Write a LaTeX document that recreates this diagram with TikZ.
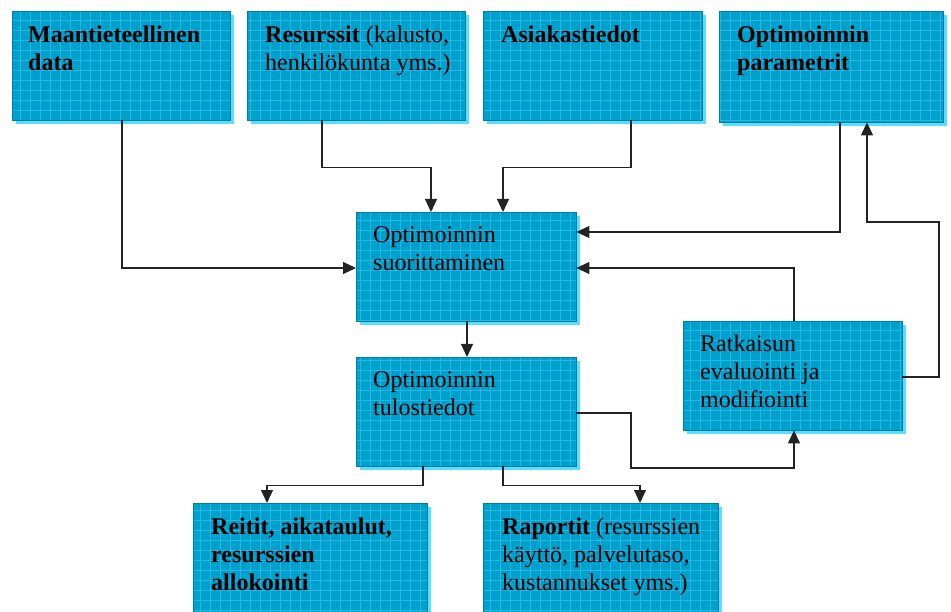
\documentclass[tikz,border=0pt]{standalone}
\usepackage{fontspec}
\setmainfont{Liberation Serif}
\usetikzlibrary{arrows.meta}
\definecolor{boxfill}{RGB}{0,160,205}
\definecolor{gridc}{RGB}{35,183,228}
\definecolor{shadowc}{RGB}{90,222,252}
\definecolor{bordc}{RGB}{0,125,165}
\definecolor{linec}{RGB}{35,35,35}
\newcommand\gbox[5]{%
  \fill[shadowc] (#2+4,#3+4) rectangle ++(#4,#5);
  \node[bx, minimum width=#4pt, minimum height=#5pt, anchor=north west] (#1) at (#2,#3) {};
  \begin{scope}
    \clip (#1.south west) rectangle (#1.north east);
    \draw[gridc, line width=0.6pt, step=10pt] (#1.south west) grid (#1.north east);
  \end{scope}
  \draw[bordc, line width=0.7pt] (#1.south west) rectangle (#1.north east);
}
\newcommand\btext[1]{\begin{tabular}[t]{@{}l@{}}#1\end{tabular}}
\begin{document}
\begin{tikzpicture}[x=1pt, y=-1pt,
  bx/.style={rectangle, fill=boxfill, draw=none, inner sep=0pt},
  tx/.style={anchor=base west, inner sep=0pt, font=\fontsize{24}{28}\selectfont},
  arr/.style={draw=linec, line width=1.1pt, -{Triangle[length=13pt,width=12pt]}},
  ln/.style={draw=linec, line width=1.1pt}]
\useasboundingbox (0,0) rectangle (951,612);
\fill[white] (0,0) rectangle (951,612);

\gbox{n1}{12}{11}{218}{109}
\gbox{n2}{247}{11}{218}{109}
\gbox{n3}{483}{11}{219}{109}
\gbox{n4}{719}{11}{224}{111}
\gbox{n5}{356}{212}{220}{109}
\gbox{n6}{356}{357}{220}{109}
\gbox{n7}{683}{321}{219}{109}
\gbox{n8}{193}{503}{234}{115}
\gbox{n9}{483}{503}{235}{115}

\node[tx] (t1) at ([xshift=16pt,yshift=-32pt]n1.north west) {\btext{\textbf{Maantieteellinen}\\\textbf{data}}};
\node[tx] (t2) at ([xshift=18pt,yshift=-32pt]n2.north west) {\btext{\textbf{Resurssit} (kalusto,\\henkilökunta yms.)}};
\node[tx] (t3) at ([xshift=18pt,yshift=-32pt]n3.north west) {\btext{\textbf{Asiakastiedot}}};
\node[tx] (t4) at ([xshift=18pt,yshift=-32pt]n4.north west) {\btext{\textbf{Optimoinnin}\\\textbf{parametrit}}};
\node[tx] (t5) at ([xshift=17pt,yshift=-31pt]n5.north west) {\btext{Optimoinnin\\suorittaminen}};
\node[tx] (t6) at ([xshift=17pt,yshift=-31pt]n6.north west) {\btext{Optimoinnin\\tulostiedot}};
\node[tx] (t7) at ([xshift=17pt,yshift=-31pt]n7.north west) {\btext{Ratkaisun\\evaluointi ja\\modifiointi}};
\node[tx] (t8) at ([xshift=18pt,yshift=-31pt]n8.north west) {\btext{\textbf{Reitit, aikataulut,}\\\textbf{resurssien}\\\textbf{allokointi}}};
\node[tx] (t9) at ([xshift=19pt,yshift=-31pt]n9.north west) {\btext{\textbf{Raportit} (resurssien\\käyttö, palvelutaso,\\kustannukset yms.)}};

\coordinate (c1) at (939,222);
\coordinate (c2) at (631,468);

% inputs to n5
\draw[arr] ([xshift=110pt]n1.south west) |- ([yshift=-56pt]n5.north west);
\draw[arr] ([xshift=75pt]n2.south west) -- ++(0,47) -| ([xshift=75pt]n5.north west);
\draw[arr] ([xshift=148pt]n3.south west) -- ++(0,47) -| ([xshift=147pt]n5.north west);
\draw[arr] ([xshift=121pt]n4.south west) |- ([yshift=-20pt]n5.north east);
\draw[arr] ([xshift=111pt]n7.north west) |- ([yshift=-56pt]n5.north east);
% feedback to n4
\draw[arr] ([yshift=-56pt]n7.north east) -| (c1) -| ([xshift=148pt]n4.south west);
% n5 -> n6
\draw[arr] ([xshift=111pt]n5.south west) -- ([xshift=111pt]n6.north west);
% n6 -> n7
\draw[arr] ([yshift=-56pt]n6.north east) -| (c2) -| ([xshift=111pt]n7.south west);
% n6 -> outputs
\draw[arr] ([xshift=67pt]n6.south west) -- ++(0,19) -| ([xshift=74pt]n8.north west);
\draw[arr] ([xshift=147pt]n6.south west) -- ++(0,19) -| ([xshift=157pt]n9.north west);
\end{tikzpicture}
\end{document}
